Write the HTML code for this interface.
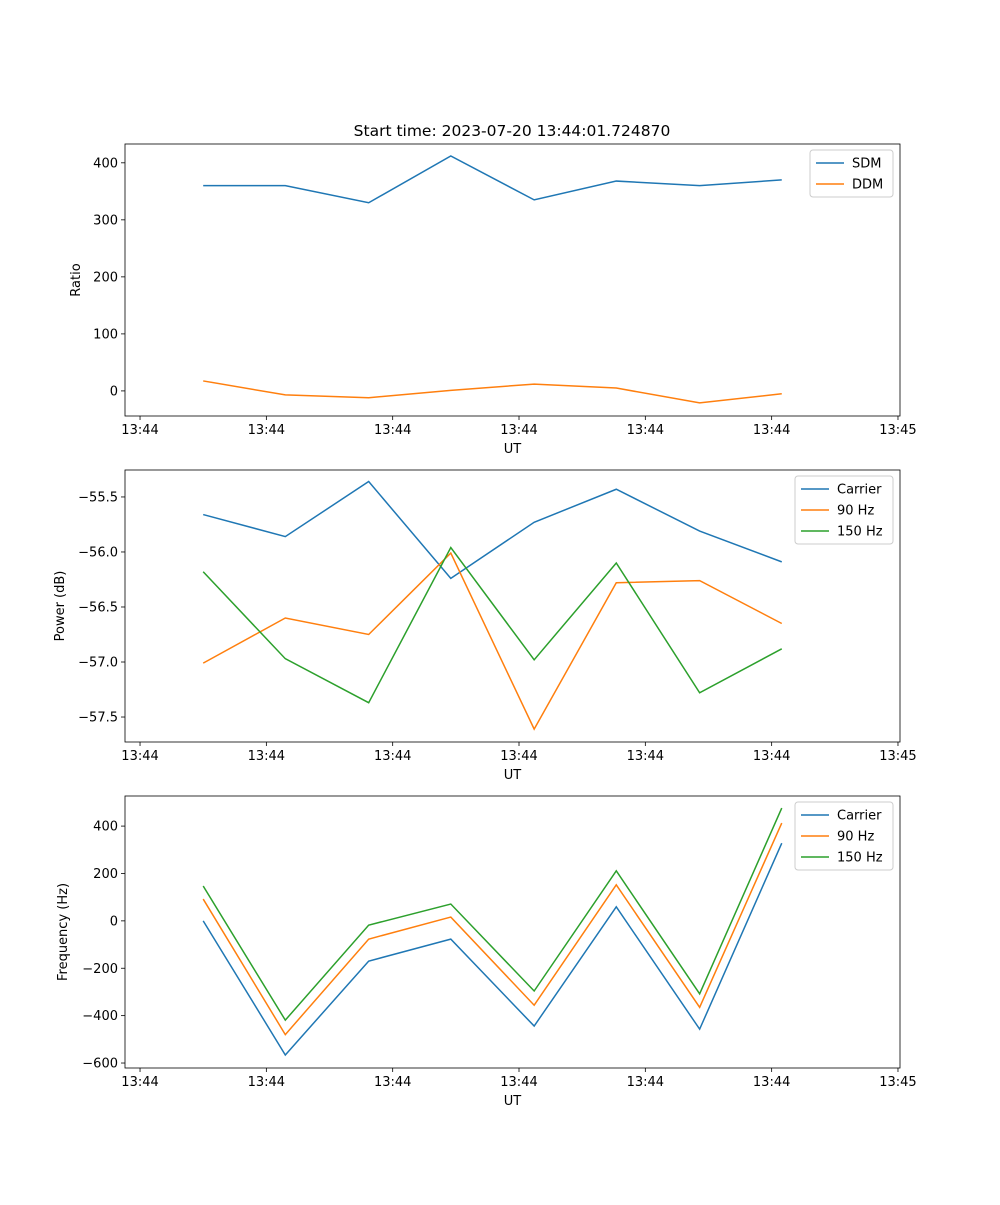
<!DOCTYPE html>
<html><head><meta charset="utf-8"><style>
body{margin:0;background:#fff;font-family:"Liberation Sans","DejaVu Sans",sans-serif}
svg text{font-family:"DejaVu Sans","Liberation Sans",sans-serif;font-size:13px;fill:#000}
</style></head><body>
<svg id="chart" width="1000" height="1200" xmlns="http://www.w3.org/2000/svg"></svg>
<script>
const times = [5.0, 11.5, 18.1, 24.6, 31.2, 37.7, 44.3, 50.8];
const xTickValues = [0, 10, 20, 30, 40, 50, 60];
const xTickLabels = ["13:44","13:44","13:44","13:44","13:44","13:44","13:45"];
const sdm = [360, 360, 330, 412, 335, 368, 360, 370];
const ddm = [17.5, -7, -12, 1, 12, 5, -21, -5];
const powCarrier = [-55.66, -55.86, -55.36, -56.24, -55.73, -55.43, -55.81, -56.09];
const pow90 = [-57.01, -56.6, -56.75, -56.01, -57.61, -56.28, -56.26, -56.65];
const pow150 = [-56.18, -56.97, -57.37, -55.96, -56.98, -56.1, -57.28, -56.88];
const freqCarrier = [0, -566, -170, -77, -444, 59, -457, 328];
const freq90 = [92, -480, -77, 16, -356, 152, -365, 413];
const freq150 = [147, -419, -18, 71, -296, 211, -308, 476];
const yTicks1 = [0, 100, 200, 300, 400];
const yTicks2 = [-57.5, -57.0, -56.5, -56.0, -55.5];
const yTicks3 = [-600, -400, -200, 0, 200, 400];

const svg = document.getElementById('chart');
const NS = 'http://www.w3.org/2000/svg';
function mk(tag, attrs, parent){const e=document.createElementNS(NS,tag);for(const k in attrs)e.setAttribute(k,attrs[k]);(parent||svg).appendChild(e);return e;}
const L=125,R=900,xMin=-1.19,xMax=60.16;
const xs=v=>L+(v-xMin)/(xMax-xMin)*(R-L);
const colors=['#1f77b4','#ff7f0e','#2ca02c'];

function panel(name, top, bottom, yMin, yMax, yTicks, fmt, ylabel, series, names, legend){
  const g=mk('g',{});
  
  
  const ys=v=>bottom-(v-yMin)/(yMax-yMin)*(bottom-top);
  series.forEach((s,i)=>{
    const p=mk('polyline',{points:s.map((v,j)=>xs(times[j])+','+ys(v)).join(' '),fill:'none',stroke:colors[i],'stroke-width':1.5},g);
    
    
  });
  mk('rect',{x:L,y:top,width:R-L,height:bottom-top,fill:'none',stroke:'#000','stroke-width':0.8},g);
  xTickValues.forEach((v,i)=>{
    const x=xs(v);
    mk('line',{x1:x,x2:x,y1:bottom,y2:bottom+4,stroke:'#000','stroke-width':0.8},g);
    const t=mk('text',{x:x,y:bottom+18,'text-anchor':'middle'},g);t.textContent=xTickLabels[i];
    
    
  });
  yTicks.forEach(v=>{
    const y=ys(v);
    mk('line',{x1:L-4,x2:L,y1:y,y2:y,stroke:'#000','stroke-width':0.8},g);
    const t=mk('text',{x:L-7,y:y+4.5,'text-anchor':'end'},g);t.textContent=fmt(v);
    
    
  });
  const xl=mk('text',{x:(L+R)/2,y:bottom+37,'text-anchor':'middle'},g);xl.textContent='UT';
  
  
  const yl=mk('text',{x:0,y:0,'text-anchor':'middle',transform:`translate(${legend.yx},${(top+bottom)/2}) rotate(-90)`},g);yl.textContent=ylabel;
  
  
  const lg=mk('g',{},g);
  
  
  mk('rect',{x:legend.x,y:top+6,width:R-7-legend.x,height:names.length*21+5,rx:3,fill:'#fff',stroke:'#ccc','stroke-width':1},lg);
  names.forEach((n,i)=>{
    const y=top+19+i*21;
    mk('line',{x1:legend.x+6,x2:legend.x+34,y1:y,y2:y,stroke:colors[i],'stroke-width':1.5},lg);
    const t=mk('text',{x:legend.x+42,y:y+4.5},lg);t.textContent=n;
    
    
  });
}
panel('ratio',144,416,-44,433,yTicks1,v=>v,'Ratio',[sdm,ddm],['SDM','DDM'],{x:810,yx:80});
panel('power',470,742,-57.727,-55.255,yTicks2,v=>v.toFixed(1).replace('-','−'),'Power (dB)',[powCarrier,pow90,pow150],['Carrier','90 Hz','150 Hz'],{x:795,yx:64});
panel('frequency',796,1068,-621,527,yTicks3,v=>String(v).replace('-','−'),'Frequency (Hz)',[freqCarrier,freq90,freq150],['Carrier','90 Hz','150 Hz'],{x:795,yx:67});
const title=mk('text',{x:512,y:136,'text-anchor':'middle','font-size':'15.5'});
title.textContent='Start time: 2023-07-20 13:44:01.724870';


title.style.fontSize='15.5px';
</script>
</body></html>
